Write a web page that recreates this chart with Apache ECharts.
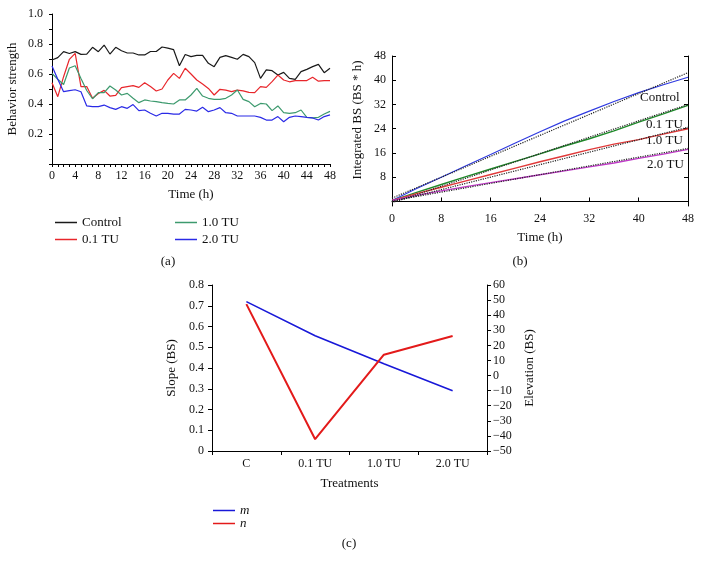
<!DOCTYPE html>
<html>
<head>
<meta charset="utf-8">
<script src="https://cdn.jsdelivr.net/npm/echarts@6/dist/echarts.min.js"></script>
<style>
html,body{margin:0;padding:0;background:#fff;}
#main{width:702px;height:570px;}
</style>
</head>
<body>
<div id="main"></div>
<script>
// ---------- Panel (a): behavior strength over time ----------
const aTime = [0,1,2,3,4,5,6,7,8,9,10,11,12,13,14,15,16,17,18,19,20,21,22,23,24,25,26,27,28,29,30,31,32,33,34,35,36,37,38,39,40,41,42,43,44,45,46,47,48];
const aControl = [0.693,0.709,0.749,0.737,0.749,0.731,0.733,0.778,0.749,0.793,0.733,0.778,0.755,0.74,0.74,0.727,0.727,0.75,0.75,0.78,0.772,0.762,0.655,0.73,0.716,0.724,0.724,0.671,0.649,0.711,0.722,0.711,0.698,0.731,0.716,0.676,0.571,0.627,0.622,0.593,0.611,0.571,0.564,0.616,0.631,0.649,0.664,0.609,0.638];
const aTu01 = [0.542,0.449,0.582,0.698,0.738,0.516,0.516,0.438,0.47,0.491,0.453,0.458,0.509,0.516,0.522,0.511,0.542,0.516,0.487,0.5,0.56,0.604,0.571,0.638,0.6,0.56,0.533,0.504,0.46,0.498,0.493,0.482,0.493,0.487,0.478,0.476,0.516,0.511,0.549,0.593,0.56,0.548,0.556,0.556,0.556,0.578,0.552,0.556,0.556];
const aTu10 = [0.604,0.565,0.53,0.64,0.655,0.57,0.49,0.435,0.476,0.476,0.52,0.493,0.46,0.471,0.438,0.409,0.427,0.42,0.416,0.409,0.404,0.4,0.427,0.427,0.46,0.504,0.453,0.438,0.431,0.431,0.438,0.46,0.493,0.431,0.416,0.382,0.404,0.4,0.356,0.387,0.342,0.338,0.342,0.36,0.311,0.307,0.311,0.333,0.351];
const aTu20 = [0.653,0.565,0.482,0.489,0.495,0.482,0.387,0.382,0.382,0.393,0.376,0.364,0.382,0.371,0.396,0.356,0.36,0.338,0.32,0.338,0.338,0.333,0.333,0.364,0.36,0.353,0.378,0.349,0.36,0.376,0.342,0.338,0.32,0.32,0.32,0.32,0.311,0.293,0.293,0.316,0.282,0.311,0.32,0.316,0.311,0.307,0.293,0.316,0.327];
const aXLabels = [0,4,8,12,16,20,24,28,32,36,40,44,48];
const aYLabels = [0.2,0.4,0.6,0.8,1.0];

// ---------- Panel (b): integrated behavior strength ----------
const bTime = [0,4,8,12,16,20,24,28,32,36,40,44,48];
const bControl = [0.3,4.3,8.0,11.8,15.5,19.3,23.0,26.6,29.8,33.0,35.9,38.5,41.0];
const bTu01 = [0.3,3.0,5.6,8.2,10.7,13.2,15.7,18.3,20.7,23.3,26.2,28.9,31.7];
const bTu10 = [0.3,2.6,4.7,6.8,8.9,11.0,13.1,15.1,17.1,18.9,20.4,22.2,24.0];
const bTu20 = [0.3,2.0,3.5,4.9,6.2,7.5,8.8,10.1,11.4,12.7,14.2,15.6,17.2];
const bFitTime = [0,48];
const bFitControl = [1.1,42.5];
const bFitTu01 = [-0.4,32.0];
const bFitTu10 = [-0.2,24.5];
const bFitTu20 = [0.2,17.5];
const bXLabels = [0,8,16,24,32,40,48];
const bYTicks = [0,8,16,24,32,40,48];
const bYLabels = [8,16,24,32,40,48];
const bLabels = ['Control','0.1 TU','1.0 TU','2.0 TU'];

// ---------- Panel (c): slope and elevation ----------
const cCategories = ['C','0.1 TU','1.0 TU','2.0 TU'];
const cSlope = [0.72,0.555,0.42,0.29];
const cElevation = [47.3,-42.2,13.8,26.2];

const F = '"Liberation Serif", "DejaVu Serif", serif';
const pair = (xs, ys) => xs.map((x, i) => [x, ys[i]]);

const axLine = {show:true, lineStyle:{color:'#000', width:1}};
const lbl = (extra) => Object.assign({color:'#111', fontFamily:F, fontSize:12}, extra||{});
const nameStyle = {color:'#111', fontFamily:F, fontSize:13};

const chart = echarts.init(document.getElementById('main'));
const lineS = (name, xi, yi, data, color, width, type) => ({
  name, type:'line', xAxisIndex:xi, yAxisIndex:yi, data, symbol:'none',
  lineStyle:{color, width, type:type||'solid'}, itemStyle:{color},
  animation:false, silent:true, z: type==='dotted' ? 5 : 3
});

chart.setOption({
  backgroundColor:'#fff',
  animation:false,
  grid:[
    {left:52, top:14, width:278, height:150},
    {left:392, top:56, width:296, height:150},
    {left:212, top:285, width:275, height:166}
  ],
  xAxis:[
    {gridIndex:0, type:'value', min:0, max:48, interval:1,
     axisLine:axLine, axisTick:{show:true, inside:false, length:3, lineStyle:{color:'#000'}},
     axisLabel:lbl({customValues:aXLabels, margin:6}), splitLine:{show:false},
     name:'Time (h)', nameLocation:'middle', nameGap:24, nameTextStyle:nameStyle},
    {gridIndex:1, type:'value', min:0, max:48, interval:8,
     axisLine:axLine, axisTick:{show:true, inside:true, length:4, lineStyle:{color:'#000'}},
     axisLabel:lbl({customValues:bXLabels, margin:7}), splitLine:{show:false},
     name:'Time (h)', nameLocation:'middle', nameGap:25, nameTextStyle:nameStyle},
    {gridIndex:2, type:'category', data:cCategories, boundaryGap:true,
     axisLine:axLine, axisTick:{show:true, inside:false, length:4, lineStyle:{color:'#000'}},
     axisLabel:lbl({margin:7}), splitLine:{show:false},
     name:'Treatments', nameLocation:'middle', nameGap:26, nameTextStyle:nameStyle}
  ],
  yAxis:[
    {gridIndex:0, type:'value', min:0, max:1, interval:0.1,
     axisLine:axLine, axisTick:{show:true, inside:false, length:3, lineStyle:{color:'#000'}},
     axisLabel:lbl({customValues:aYLabels, margin:9, formatter:v=>Number(v).toFixed(1)}), splitLine:{show:false},
     name:'Behavior strength', nameLocation:'middle', nameGap:33, nameTextStyle:nameStyle},
    {gridIndex:1, type:'value', min:-1.5, max:48,
     axisLine:axLine, axisTick:{show:true, inside:true, length:4, customValues:bYTicks, lineStyle:{color:'#000'}},
     axisLabel:lbl({customValues:bYLabels, margin:6}), splitLine:{show:false}},
    {gridIndex:1, type:'value', position:'right', min:-1.5, max:48,
     axisLine:axLine, axisTick:{show:true, inside:true, length:4, customValues:bYTicks, lineStyle:{color:'#000'}},
     axisLabel:{show:false}, splitLine:{show:false}},
    {gridIndex:2, type:'value', min:0, max:0.8, interval:0.1,
     axisLine:axLine, axisTick:{show:true, inside:false, length:4, lineStyle:{color:'#000'}},
     axisLabel:lbl({margin:8}), splitLine:{show:false},
     name:'Slope (BS)', nameLocation:'middle', nameGap:34, nameTextStyle:nameStyle},
    {gridIndex:2, type:'value', position:'right', min:-50, max:60, interval:10,
     axisLine:axLine, axisTick:{show:true, inside:false, length:4, lineStyle:{color:'#000'}},
     axisLabel:lbl({margin:6, formatter:v=> v<0 ? '\u2212'+Math.abs(v) : String(v)}), splitLine:{show:false},
     name:'Elevation (BS)', nameLocation:'middle', nameGap:36, nameRotate:90, nameTextStyle:nameStyle}
  ],
  legend:[
    {data:['Control','0.1 TU'], orient:'vertical', left:55, top:216, padding:0, itemGap:4,
     icon:'rect', itemWidth:22, itemHeight:1.5, textStyle:{fontFamily:F, fontSize:13, color:'#111'}, selectedMode:false},
    {data:['1.0 TU','2.0 TU'], orient:'vertical', left:175, top:216, padding:0, itemGap:4,
     icon:'rect', itemWidth:22, itemHeight:1.5, textStyle:{fontFamily:F, fontSize:13, color:'#111'}, selectedMode:false},
    {data:['m','n'], orient:'vertical', left:213, top:504, padding:0, itemGap:0,
     icon:'rect', itemWidth:22, itemHeight:1.5, textStyle:{fontFamily:F, fontSize:13, fontStyle:'italic', color:'#111', lineHeight:12}, selectedMode:false}
  ],
  series:[
    lineS('Control',0,0,pair(aTime,aControl),'#1a1a1a',1.2),
    lineS('0.1 TU',0,0,pair(aTime,aTu01),'#e8262b',1.2),
    lineS('1.0 TU',0,0,pair(aTime,aTu10),'#3d9a6e',1.2),
    lineS('2.0 TU',0,0,pair(aTime,aTu20),'#2a2ae6',1.2),

    lineS('b-Control',1,1,pair(bTime,bControl),'#2f3ae0',1.2),
    lineS('b-0.1',1,1,pair(bTime,bTu01),'#1f8a2a',1.4),
    lineS('b-1.0',1,1,pair(bTime,bTu10),'#e03a3a',1.4),
    lineS('b-2.0',1,1,pair(bTime,bTu20),'#c03ac8',1.4),
    lineS('b-fit-Control',1,1,pair(bFitTime,bFitControl),'#222',1.2,'dotted'),
    lineS('b-fit-0.1',1,1,pair(bFitTime,bFitTu01),'#222',1.2,'dotted'),
    lineS('b-fit-1.0',1,1,pair(bFitTime,bFitTu10),'#222',1.2,'dotted'),
    lineS('b-fit-2.0',1,1,pair(bFitTime,bFitTu20),'#222',1.2,'dotted'),

    lineS('m',2,3,cSlope,'#1818d8',1.6),
    lineS('n',2,4,cElevation,'#e31a1a',2)
  ],
  graphic:[
    {type:'text', x:168, y:262, style:{text:'(a)', font:'13px '+F, fill:'#111', align:'center', verticalAlign:'middle'}},
    {type:'text', x:520, y:262, style:{text:'(b)', font:'13px '+F, fill:'#111', align:'center', verticalAlign:'middle'}},
    {type:'text', x:349, y:544, style:{text:'(c)', font:'13px '+F, fill:'#111', align:'center', verticalAlign:'middle'}},
    {type:'text', x:358, y:120, rotation:Math.PI/2, style:{text:'Integrated BS (BS * h)', font:'13px '+F, fill:'#111', align:'center', verticalAlign:'middle'}},
    {type:'text', x:640, y:98, style:{text:bLabels[0], font:'13px '+F, fill:'#111', align:'left', verticalAlign:'middle'}},
    {type:'text', x:646, y:125, style:{text:bLabels[1], font:'13px '+F, fill:'#111', align:'left', verticalAlign:'middle'}},
    {type:'text', x:646, y:141, style:{text:bLabels[2], font:'13px '+F, fill:'#111', align:'left', verticalAlign:'middle'}},
    {type:'text', x:647, y:165, style:{text:bLabels[3], font:'13px '+F, fill:'#111', align:'left', verticalAlign:'middle'}}
  ]
});
</script>
</body>
</html>
